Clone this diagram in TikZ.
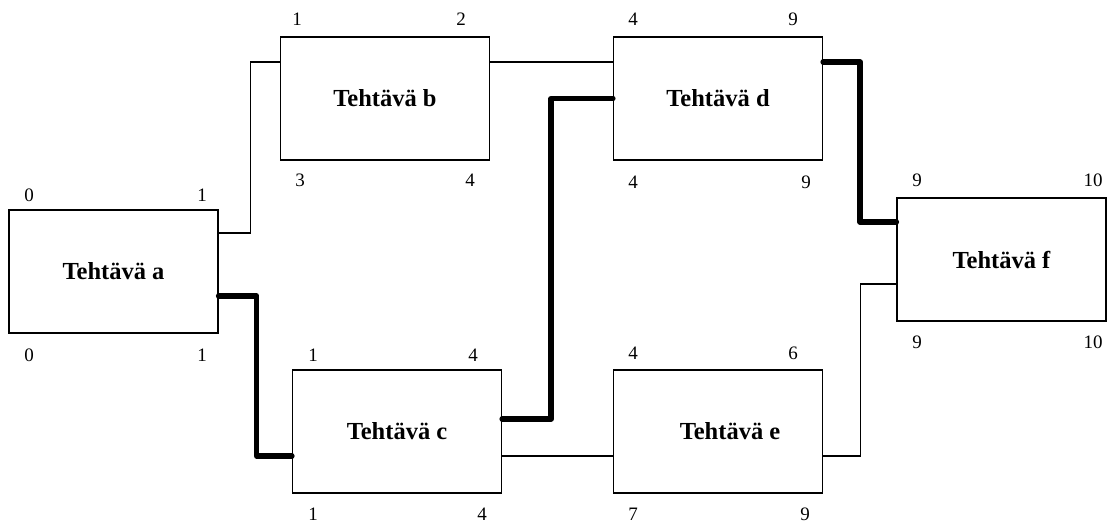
\documentclass[tikz,border=0pt]{standalone}
\usepackage{fontspec}
\setmainfont{Liberation Serif}
\begin{document}
\begin{tikzpicture}[x=1pt,y=-1pt,
  task/.style={draw,line width=1.3pt,minimum width=209pt,minimum height=123pt,
    inner sep=0pt,font=\fontsize{24.5}{26}\selectfont\bfseries},
  num/.style={font=\fontsize{19}{21}\selectfont,inner sep=0pt},
  link/.style={line width=1.1pt},
  crit/.style={line width=5.5pt,line cap=round,line join=round}]
\useasboundingbox (0,0) rectangle (1111,524);

% task boxes
\node[task] (a) at (113.5,271.5) {Tehtävä a};
\node[task] (b) at (385,98.5) {Tehtävä b};
\node[task] (c) at (397,431.5) {Tehtävä c};
\node[task] (d) at (718,98.5) {Tehtävä d};
\node[task] (e) at (718,431.5) {\hspace*{24pt}Tehtävä e};
\node[task] (f) at (1001.5,259.5) {Tehtävä f};

% early / late times
\node[num] (a1) at (29,195) {0};   \node[num] (a2) at (202,195) {1};
\node[num] (a3) at (29,355) {0};   \node[num] (a4) at (202,355) {1};
\node[num] (b1) at (297,19) {1};   \node[num] (b2) at (461,19) {2};
\node[num] (b3) at (300,180) {3};  \node[num] (b4) at (470,180) {4};
\node[num] (c1) at (313,355) {1};  \node[num] (c2) at (473,355) {4};
\node[num] (c3) at (313,514) {1};  \node[num] (c4) at (482,514) {4};
\node[num] (d1) at (633,19) {4};   \node[num] (d2) at (793,19) {9};
\node[num] (d3) at (633,182) {4};  \node[num] (d4) at (806,182) {9};
\node[num] (e1) at (633,353) {4};  \node[num] (e2) at (793,353) {6};
\node[num] (e3) at (633,514) {7};  \node[num] (e4) at (805,514) {9};
\node[num] (f1) at (917,180) {9};  \node[num] (f2) at (1093,180) {10};
\node[num] (f3) at (917,342) {9};  \node[num] (f4) at (1093,342) {10};

% ordinary dependencies
\draw[link] ([yshift=38.5pt]a.east) -- ++(32,0) |- ([yshift=36.5pt]b.west);
\draw[link] ([yshift=36.5pt]b.east) -- ([yshift=36.5pt]d.west);
\draw[link] ([yshift=-24.5pt]c.east) -- ([yshift=-24.5pt]e.west);
\draw[link] ([yshift=-24.5pt]e.east) -- ++(37,0) |- ([yshift=-24.5pt]f.west);

% critical path
\draw[crit] ([yshift=-24.5pt]a.east) -- ++(38,0) |- ([yshift=-24.5pt]c.west);
\draw[crit] ([yshift=12.5pt]c.east) -- ++(49,0) |- (d.west);
\draw[crit] ([yshift=36.5pt]d.east) -- ++(37,0) |- ([yshift=37.5pt]f.west);
\end{tikzpicture}
\end{document}
